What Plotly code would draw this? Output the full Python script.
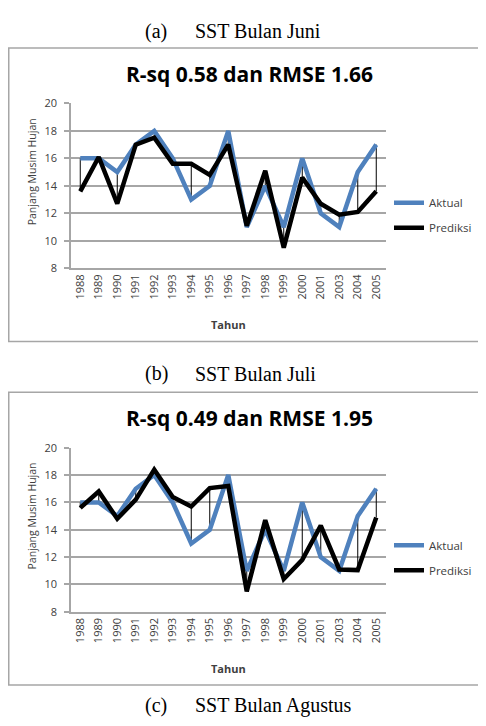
import plotly.graph_objects as go

# The page body keeps its default 8 px margin, so the figure is sized to leave it.
OFF = 8
W, H = 486 - 2 * OFF, 726 - 2 * OFF

years = ["1988", "1989", "1990", "1991", "1992", "1993", "1994", "1995", "1996",
         "1997", "1998", "1999", "2000", "2001", "2003", "2004", "2005"]
aktual = [16, 16, 15, 17, 18, 16, 13, 14, 18, 11, 14, 11, 16, 12, 11, 15, 17]
prediksi_juni = [13.6, 16.1, 12.7, 17.0, 17.5, 15.6, 15.6, 14.8, 17.0, 11.1, 15.1,
                 9.5, 14.6, 12.7, 11.9, 12.1, 13.6]
prediksi_juli = [15.6, 16.8, 14.8, 16.2, 18.4, 16.4, 15.7, 17.05, 17.2, 9.5, 14.7,
                 10.4, 11.8, 14.3, 11.1, 11.05, 14.9]

captions = [("(a)", "SST Bulan Juni"), ("(b)", "SST Bulan Juli"), ("(c)", "SST Bulan Agustus")]
titles = ["R-sq 0.58 dan RMSE 1.66", "R-sq 0.49 dan RMSE 1.95"]
y_title = "Panjang Musim Hujan"
x_title = "Tahun"

BLUE = "#4F81BD"
GRID = "#A6A6A6"
TXT = "#404040"
SANS = "Open Sans"
SERIF = "Liberation Serif"


def px(x):
    return (x - OFF) / W


def py(y):
    return 1 - (y - OFF) / H


fig = go.Figure()

panels = [
    dict(pred=prediksi_juni, xa="x", ya="y", legend="legend", top=40.7, bottom=340.5),
    dict(pred=prediksi_juli, xa="x2", ya="y2", legend="legend2", top=392.3, bottom=691.5),
]

for p in panels:
    # high-low drop lines
    dx, dy = [], []
    for yr, a, b in zip(years, aktual, p["pred"]):
        dx += [yr, yr, None]
        dy += [a, b, None]
    fig.add_trace(go.Scatter(x=dx, y=dy, mode="lines", line=dict(color="black", width=1),
                             xaxis=p["xa"], yaxis=p["ya"], showlegend=False, hoverinfo="skip"))
    fig.add_trace(go.Scatter(x=years, y=aktual, mode="lines", name="Aktual",
                             line=dict(color=BLUE, width=4.5), xaxis=p["xa"], yaxis=p["ya"],
                             legend=p["legend"], legendgroup="a" + p["xa"]))
    fig.add_trace(go.Scatter(x=years, y=p["pred"], mode="lines", name="Prediksi",
                             line=dict(color="black", width=4.5), xaxis=p["xa"], yaxis=p["ya"],
                             legend=p["legend"], legendgroup="b" + p["xa"]))

xdom = [px(71), px(385.5)]
xax = dict(type="category", domain=xdom, showgrid=False, showline=True, linecolor=GRID,
           linewidth=1.5, ticks="", tickangle=-90, tickfont=dict(family=SANS, size=11, color=TXT),
           range=[-0.5, 16.5], fixedrange=True)
yax = dict(range=[8, 20], dtick=2, showgrid=True, gridcolor=GRID, gridwidth=1.5,
           showline=True, linecolor=GRID, linewidth=1.5, ticks="outside", ticklen=5,
           tickcolor=GRID, tickwidth=1.5, zeroline=False, fixedrange=True,
           tickfont=dict(family=SANS, size=11, color=TXT), ticklabelstandoff=5)

legend_common = dict(font=dict(family=SANS, size=11.5, color=TXT), bgcolor="rgba(0,0,0,0)",
                     xanchor="left", yanchor="middle", tracegroupgap=6, itemwidth=30)

annotations = []
shapes = []

cap_y = [23.5, 373.5, 712]
for (lab, txt), cy in zip(captions, cap_y):
    annotations.append(dict(text=lab, x=px(156), y=py(cy), xref="paper", yref="paper",
                            xanchor="center", yanchor="middle", showarrow=False,
                            font=dict(family=SERIF, size=20, color="black")))
    annotations.append(dict(text=txt, x=px(193), y=py(cy), xref="paper", yref="paper",
                            xanchor="left", yanchor="middle", showarrow=False,
                            font=dict(family=SERIF, size=20, color="black")))

for p, t in zip(panels, titles):
    top, bottom = p["top"], p["bottom"]
    shapes.append(dict(type="rect", xref="paper", yref="paper", x0=px(8.75), x1=px(492),
                       y0=py(bottom), y1=py(top), line=dict(color=GRID, width=1.5)))
    annotations.append(dict(text="<b>%s</b>" % t, x=px(249), y=py(top + 26.5), xref="paper",
                            yref="paper", xanchor="center", yanchor="middle", showarrow=False,
                            font=dict(family=SANS, size=21, color="black")))
    annotations.append(dict(text=y_title, x=px(32), y=py(top + 127), xref="paper", yref="paper",
                            xanchor="center", yanchor="middle", textangle=-90, showarrow=False,
                            font=dict(family=SANS, size=10.5, color=TXT)))
    annotations.append(dict(text="<b>%s</b>" % x_title, x=px(228), y=py(top + 282), xref="paper",
                            yref="paper", xanchor="center", yanchor="middle", showarrow=False,
                            font=dict(family=SANS, size=11, color=TXT)))

fig.update_layout(
    width=W, height=H, margin=dict(l=0, r=0, t=0, b=0),
    paper_bgcolor="white", plot_bgcolor="white",
    xaxis=dict(xax, anchor="y"),
    yaxis=dict(yax, domain=[py(265.7), py(97.3)], anchor="x"),
    xaxis2=dict(xax, anchor="y2"),
    yaxis2=dict(yax, domain=[py(616.7), py(449)], anchor="x2"),
    legend=dict(legend_common, x=px(389), y=py(211.5)),
    legend2=dict(legend_common, x=px(389), y=py(561.5)),
    annotations=annotations, shapes=shapes,
)

fig.write_html("out.html", config={"displayModeBar": False})
